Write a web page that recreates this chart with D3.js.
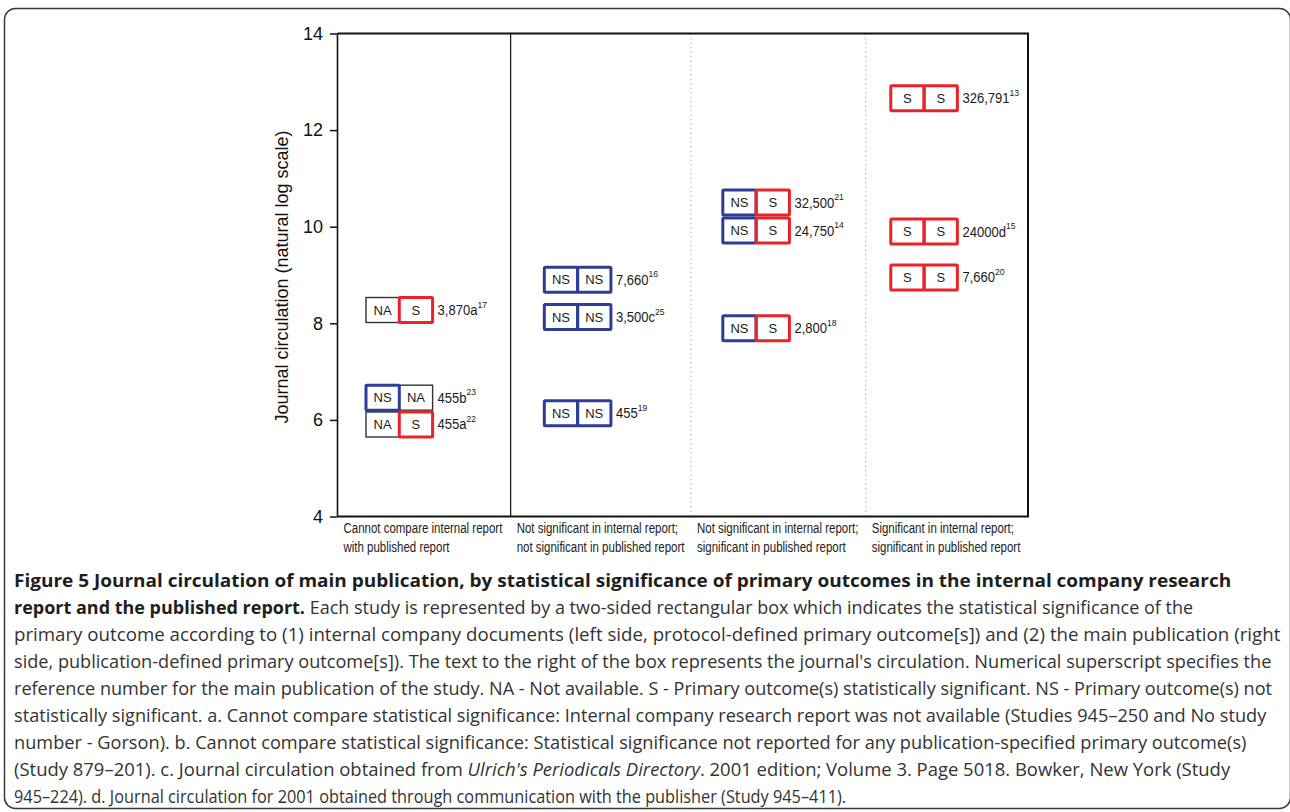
<!DOCTYPE html>
<html>
<head>
<meta charset="utf-8">
<script src="https://cdn.jsdelivr.net/npm/d3@7"></script>
<style>
  body { margin: 0; background: #fff; }
  svg { display: block; }
</style>
</head>
<body>
<div id="chart"></div>
<script>
// columns (categories) of the chart, two lines each
const categoryLines = [
    ["Cannot compare internal report", "with published report"],
    ["Not significant in internal report;", "not significant in published report"],
    ["Not significant in internal report;", "significant in published report"],
    ["Significant in internal report;", "significant in published report"]
];
// column boundaries and box centres on the x scale (0..4)
const columnEdges = [0, 1.003, 2.048, 3.06, 4];
const columnCenters = [0.358, 1.391, 2.425, 3.398];
const dividerStyle = ["solid", "dotted", "dotted"];

const yTicks = [4, 6, 8, 10, 12, 14];

// one entry per study
const studyColumn    = [0, 0, 0, 1, 1, 1, 2, 2, 2, 3, 3, 3];
const studyInternal  = ["NA", "NS", "NA", "NS", "NS", "NS", "NS", "NS", "NS", "S", "S", "S"];
const studyPublished = ["S", "NA", "S", "NS", "NS", "NS", "S", "S", "S", "S", "S", "S"];
const studyLogCirc   = [8.275, 6.46, 5.905, 8.90, 8.13, 6.14, 10.50, 9.92, 7.90, 12.66, 9.90, 8.95];
const studyCirc      = ["3,870", "455", "455", "7,660", "3,500", "455", "32,500", "24,750", "2,800", "326,791", "24000", "7,660"];
const studyNote      = ["a", "b", "a", "", "c", "", "", "", "", "", "d", ""];
const studyRef       = ["17", "23", "22", "16", "25", "19", "21", "14", "18", "13", "15", "20"];

const captionLines = [
    [["b", "Figure 5 Journal circulation of main publication, by statistical significance of primary outcomes in the internal company research"]],
    [["b", "report and the published report."], ["n", " Each study is represented by a two-sided rectangular box which indicates the statistical significance of the"]],
    [["n", "primary outcome according to (1) internal company documents (left side, protocol-defined primary outcome[s]) and (2) the main publication (right"]],
    [["n", "side, publication-defined primary outcome[s]). The text to the right of the box represents the journal's circulation. Numerical superscript specifies the"]],
    [["n", "reference number for the main publication of the study. NA - Not available. S - Primary outcome(s) statistically significant. NS - Primary outcome(s) not"]],
    [["n", "statistically significant. a. Cannot compare statistical significance: Internal company research report was not available (Studies 945\u2013250 and No study"]],
    [["n", "number - Gorson). b. Cannot compare statistical significance: Statistical significance not reported for any publication-specified primary outcome(s)"]],
    [["n", "(Study 879\u2013201). c. Journal circulation obtained from "], ["i", "Ulrich's Periodicals Directory"], ["n", ". 2001 edition; Volume 3. Page 5018. Bowker, New York (Study"]],
    [["n", "945\u2013224). d. Journal circulation for 2001 obtained through communication with the publisher (Study 945\u2013411)."]]
];
const captionRight = [1232, 1194, 1281, 1272, 1273, 1267, 1247, 1231, 847];

const W = 1290, H = 812;
const plot = { left: 337.5, right: 1028, top: 33.5, bottom: 516.5 };
const cellW = 33.3, cellH = 25;
const colors = { S: "#e8232a", NS: "#2e3d96", NA: "#333" };
const arial = "'Liberation Sans', Arial, sans-serif";
const squeeze = 0.82; // narrow look of the small labels

const svg = d3.select("#chart").append("svg")
    .attr("width", W)
    .attr("height", H);

// outer frame
svg.append("rect")
    .attr("x", 4.5).attr("y", 8.5)
    .attr("width", 1286).attr("height", 800)
    .attr("rx", 11)
    .attr("fill", "none")
    .attr("stroke", "#3a3a3a")
    .attr("stroke-width", 1.5);

const x = d3.scaleLinear().domain([0, 4]).range([plot.left, plot.right]);
const y = d3.scaleLinear().domain([4, 14]).range([plot.bottom, plot.top]);

// column dividers
svg.selectAll(".divider")
    .data(columnEdges.slice(1, -1))
    .enter().append("line")
    .attr("x1", d => x(d)).attr("x2", d => x(d))
    .attr("y1", plot.top).attr("y2", plot.bottom)
    .attr("stroke", (d, i) => dividerStyle[i] === "solid" ? "#111" : "#bbb")
    .attr("stroke-width", 1.2)
    .attr("stroke-dasharray", (d, i) => dividerStyle[i] === "solid" ? null : "1.5,3");

// frame of the plot
svg.append("path")
    .attr("d", `M${plot.left},${plot.top}H${plot.right}V${plot.bottom}H${plot.left}`)
    .attr("fill", "none")
    .attr("stroke", "#111")
    .attr("stroke-width", 2);
svg.append("line")
    .attr("x1", plot.left).attr("x2", plot.left)
    .attr("y1", plot.top).attr("y2", plot.bottom)
    .attr("stroke", "#111").attr("stroke-width", 1.6);

// y axis
const yAxis = svg.append("g")
    .attr("transform", `translate(${plot.left},0)`)
    .call(d3.axisLeft(y).tickValues(yTicks).tickSize(7.5).tickPadding(7));
yAxis.select(".domain").remove();
yAxis.selectAll(".tick line").attr("stroke", "#111").attr("stroke-width", 1.5);
yAxis.selectAll(".tick text")
    .attr("fill", "#111")
    .style("font-family", arial)
    .style("font-size", "18px");

svg.append("text")
    .attr("transform", `translate(288,${(plot.top + plot.bottom) / 2 + 2}) rotate(-90)`)
    .attr("text-anchor", "middle")
    .style("font-family", arial)
    .style("font-size", "18px")
    .attr("fill", "#111")
    .text("Journal circulation (natural log scale)");

// category labels
categoryLines.forEach((lines, i) => {
    lines.forEach((line, j) => {
        svg.append("text")
            .attr("transform", `translate(${x(columnEdges[i]) + 6},${533 + j * 19}) scale(${squeeze},1)`)
            .style("font-family", arial)
            .style("font-size", "14px")
            .attr("fill", "#222")
            .text(line);
    });
});

// study boxes
const studies = studyColumn.map((c, i) => ({
    col: c,
    cells: [studyInternal[i], studyPublished[i]],
    v: studyLogCirc[i],
    circ: studyCirc[i],
    note: studyNote[i],
    ref: studyRef[i]
}));

const box = svg.selectAll(".study")
    .data(studies)
    .enter().append("g")
    .attr("class", "study")
    .attr("transform", d => `translate(${x(columnCenters[d.col]) - cellW},${y(d.v) - cellH / 2})`);

// draw NA (black) cells first, coloured cells on top
box.each(function(d) {
    const g = d3.select(this);
    const order = [0, 1].sort((a, b) => (d.cells[a] === "NA" ? 0 : 1) - (d.cells[b] === "NA" ? 0 : 1));
    order.forEach(k => {
        const s = d.cells[k];
        g.append("rect")
            .attr("x", k * cellW).attr("y", 0)
            .attr("width", cellW).attr("height", cellH)
            .attr("fill", "none")
            .attr("stroke", colors[s])
            .attr("stroke-width", s === "NA" ? 1.4 : 3)
            .attr("rx", s === "NA" ? 0 : 1);
    });
    [0, 1].forEach(k => {
        g.append("text")
            .attr("x", k * cellW + cellW / 2)
            .attr("y", cellH / 2 + 4.5)
            .attr("text-anchor", "middle")
            .style("font-family", arial)
            .style("font-size", "13px")
            .attr("fill", "#1a1a1a")
            .text(d.cells[k]);
    });
});

const lbl = box.append("text")
    .attr("transform", `translate(${2 * cellW + 5},${cellH / 2 + 5}) scale(0.9,1)`)
    .style("font-family", arial)
    .style("font-size", "14.5px")
    .attr("fill", "#1a1a1a");
lbl.append("tspan").text(d => d.circ + d.note);
lbl.append("tspan")
    .attr("dy", -7.5)
    .style("font-size", "9.5px")
    .text(d => d.ref);

// caption
const capFont = "'Open Sans', 'Noto Sans', sans-serif";
captionLines.forEach((segs, i) => {
    const t = svg.append("text")
        .attr("y", 0)
        .style("font-family", capFont)
        .style("font-size", "18px")
        .attr("fill", "#333");
    segs.forEach(s => {
        t.append("tspan")
            .style("font-weight", s[0] === "b" ? "700" : "400")
            .style("font-style", s[0] === "i" ? "italic" : "normal")
            .attr("fill", s[0] === "b" ? "#1e1e1e" : "#333")
            .text(s[1]);
    });
    const w = t.node().getComputedTextLength();
    const k = (captionRight[i] - 14) / w;
    t.attr("transform", `translate(14,${587 + i * 27}) scale(${k},1)`);
});
</script>
</body>
</html>
